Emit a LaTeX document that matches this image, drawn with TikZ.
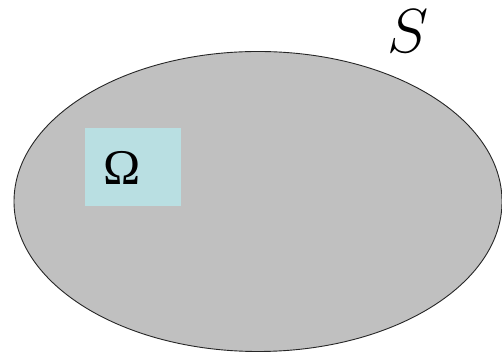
\documentclass[tikz,border=0pt]{standalone}
\usepackage{fontspec}
\setmainfont{Liberation Serif}
\usetikzlibrary{positioning}
\definecolor{setgray}{RGB}{192,192,192}
\definecolor{subblue}{RGB}{185,223,226}

\begin{document}
\begin{tikzpicture}[x=1pt,y=1pt,
  region/.style={draw=black!85,line width=0.9pt,fill=setgray},
  subset/.style={fill=subblue,minimum width=96pt,minimum height=78pt,inner sep=0pt},
  setlabel/.style={font=\fontsize{50}{50}\selectfont,inner sep=0pt}
]
  \useasboundingbox (0,0) rectangle (502,352);
  \clip (0,0) rectangle (502,352);
  \draw[region] (258,150.5) ellipse [x radius=244, y radius=150];
  \node[subset] (omega) at (133,185) {};
  \node[setlabel] (om) at (122,184) {Ω};
  \node[inner sep=0pt,font=\fontsize{20}{20}\selectfont,scale=3] (S) at (408,321) {$S$};
\end{tikzpicture}
\end{document}
